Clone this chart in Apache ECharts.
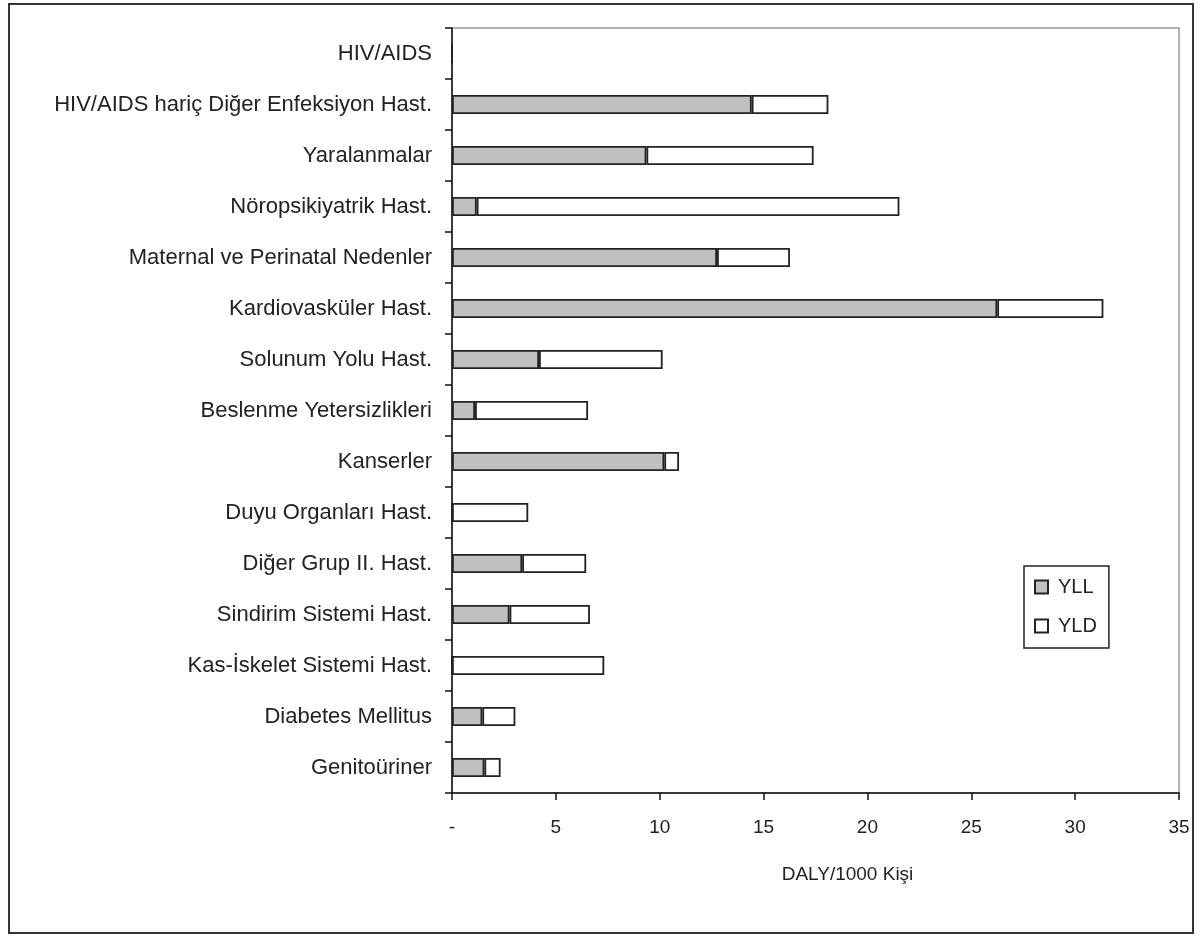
<!DOCTYPE html>
<html>
<head>
<meta charset="utf-8">
<script src="https://cdn.jsdelivr.net/npm/echarts@6/dist/echarts.min.js"></script>
<style>
html,body{margin:0;padding:0;background:#fff;}
#chart{width:1203px;height:948px;}
</style>
</head>
<body>
<div id="chart"></div>
<script>
const categories = [
  "HIV/AIDS",
  "HIV/AIDS hariç Diğer Enfeksiyon Hast.",
  "Yaralanmalar",
  "Nöropsikiyatrik Hast.",
  "Maternal ve Perinatal Nedenler",
  "Kardiovasküler Hast.",
  "Solunum Yolu Hast.",
  "Beslenme Yetersizlikleri",
  "Kanserler",
  "Duyu Organları Hast.",
  "Diğer Grup II. Hast.",
  "Sindirim Sistemi Hast.",
  "Kas-İskelet Sistemi Hast.",
  "Diabetes Mellitus",
  "Genitoüriner"
];
const yll = [0, 14.43, 9.36, 1.19, 12.76, 26.25, 4.19, 1.11, 10.22, 0, 3.38, 2.77, 0, 1.46, 1.56];
const yld = [0, 3.69, 8.05, 20.35, 3.51, 5.11, 5.95, 5.44, 0.71, 3.67, 3.08, 3.87, 7.33, 1.59, 0.78];
const xTicks = [0, 5, 10, 15, 20, 25, 30, 35];
const seriesNames = ["YLL", "YLD"];
const axisTitle = "DALY/1000 Kişi";

const chart = echarts.init(document.getElementById('chart'), null, {renderer: 'canvas'});
const font = "'Liberation Sans', Arial, sans-serif";
const option = {
  backgroundColor: '#fff',
  animation: false,
  textStyle: {fontFamily: font, color: '#222'},
  grid: {left: 452, top: 28, right: 24, bottom: 155, show: true, borderColor: '#9a9a9a', borderWidth: 1.5},
  legend: {
    orient: 'vertical',
    left: 1024, top: 566,
    padding: [11, 12, 12, 10],
    borderColor: '#222', borderWidth: 1.5,
    itemWidth: 13, itemHeight: 13, itemGap: 19,
    icon: 'rect',
    textStyle: {fontFamily: font, fontSize: 20, lineHeight: 20, color: '#222', padding: [0, 0, 0, 5]},
    data: seriesNames
  },
  xAxis: {
    type: 'value',
    min: xTicks[0], max: xTicks[xTicks.length - 1], interval: 5,
    axisLine: {show: true, lineStyle: {color: '#111', width: 1.5}},
    axisTick: {show: true, length: 7, lineStyle: {color: '#111', width: 1.5}},
    splitLine: {show: false},
    axisLabel: {fontFamily: font, fontSize: 19, color: '#222', margin: 25,
      formatter: v => v === 0 ? '-' : String(v)},
    name: axisTitle,
    nameLocation: 'middle',
    nameGap: 72,
    nameTextStyle: {fontFamily: font, fontSize: 19, color: '#222', padding: [0, 0, 0, 64]}
  },
  yAxis: {
    type: 'category',
    inverse: true,
    data: categories,
    axisLine: {show: true, lineStyle: {color: '#111', width: 1.5}},
    axisTick: {show: true, length: 7, inside: false, lineStyle: {color: '#111', width: 1.5}},
    axisLabel: {fontFamily: font, fontSize: 22, color: '#222', margin: 20, padding: [0, 0, 4, 0]}
  },
  series: [
    {name: seriesNames[0], type: 'bar', stack: 'daly', data: yll, barWidth: 19,
     itemStyle: {color: '#c0c0c0', borderColor: '#222', borderWidth: 1.8}},
    {name: seriesNames[1], type: 'bar', stack: 'daly', data: yld, barWidth: 19,
     itemStyle: {color: '#ffffff', borderColor: '#222', borderWidth: 1.8}}
  ],
  graphic: [
    {type: 'rect', shape: {x: 9, y: 4, width: 1184, height: 929},
     style: {fill: 'none', stroke: '#333', lineWidth: 2}, silent: true}
  ]
};
chart.setOption(option);
</script>
</body>
</html>
